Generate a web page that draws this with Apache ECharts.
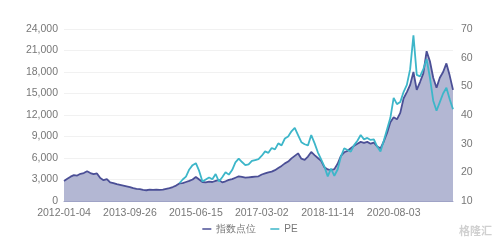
<!DOCTYPE html>
<html><head><meta charset="utf-8">
<script src="https://cdn.jsdelivr.net/npm/echarts@6/dist/echarts.min.js"></script>
<style>html,body{margin:0;padding:0;background:#fff}#c{width:500px;height:242px}</style>
</head><body><div id="c"></div>
<script>
const dates = [
'2012-01-04','2012-02-06','2012-03-07','2012-04-09','2012-05-10','2012-06-11','2012-07-12','2012-08-13','2012-09-13','2012-10-17',
'2012-11-15','2012-12-17','2013-01-18','2013-02-26','2013-03-28','2013-05-02','2013-06-03','2013-07-04','2013-08-05','2013-09-04',
'2013-09-26','2013-10-31','2013-12-02','2014-01-02','2014-02-10','2014-03-12','2014-04-14','2014-05-15','2014-06-16','2014-07-16',
'2014-08-15','2014-09-17','2014-10-23','2014-11-24','2014-12-24','2015-01-26','2015-03-02','2015-04-01','2015-04-30','2015-05-29',
'2015-06-15','2015-07-16','2015-08-17','2015-09-18','2015-10-26','2015-11-25','2015-12-25','2016-01-27','2016-03-04','2016-04-06',
'2016-05-09','2016-06-08','2016-07-11','2016-08-09','2016-09-08','2016-10-17','2016-11-15','2016-12-14','2017-01-13','2017-02-17',
'2017-03-02','2017-04-06','2017-05-09','2017-06-08','2017-07-10','2017-08-08','2017-09-07','2017-10-16','2017-11-14','2017-12-13',
'2018-01-12','2018-02-12','2018-03-20','2018-04-20','2018-05-22','2018-06-21','2018-07-23','2018-08-21','2018-09-20','2018-10-23',
'2018-11-14','2018-12-14','2019-01-15','2019-02-21','2019-03-22','2019-04-23','2019-05-27','2019-06-25','2019-07-25','2019-08-23',
'2019-09-24','2019-10-31','2019-11-29','2019-12-30','2020-02-06','2020-03-09','2020-04-08','2020-05-12','2020-06-10','2020-07-13',
'2020-08-03','2020-09-02','2020-10-12','2020-11-10','2020-12-09','2021-01-08','2021-02-05','2021-03-15','2021-04-14','2021-05-18',
'2021-06-17','2021-07-19','2021-08-17','2021-09-15','2021-10-22','2021-11-22','2021-12-21','2022-01-21','2022-02-28'
];
const indexValues = [
2800,3100,3400,3600,3550,3800,3900,4150,3900,3750,
3850,3200,2900,3050,2600,2500,2350,2250,2150,2050,
1950,1800,1700,1650,1550,1500,1600,1550,1600,1550,
1600,1700,1800,1950,2150,2450,2500,2650,2800,3000,
3350,3000,2650,2600,2700,2650,2800,2950,2600,2750,
2950,3050,3250,3450,3350,3250,3300,3350,3400,3450,
3700,3850,4000,4100,4300,4600,4900,5250,5500,5950,
6300,6650,5900,5750,6200,6850,6400,6000,5600,4700,
4400,4300,4450,5200,6300,6800,7000,7350,7700,8000,
8250,8100,8250,8000,8150,7600,7350,8300,9500,11000,
11700,11400,12300,14300,15200,16200,18000,15500,16600,17800,
20900,19500,17200,15800,17200,18000,19200,17500,15500
];
const peValues = [
null,null,null,null,null,null,null,null,null,null,
null,null,null,null,null,null,null,null,null,null,
null,null,null,null,null,null,null,null,null,null,
null,null,null,null,null,16.2,17.5,18.5,21.0,22.5,
23.2,20.5,16.8,17.5,18.2,17.6,19.4,16.8,18.3,20.0,
19.2,20.8,23.5,24.8,23.6,22.5,22.8,24.0,24.3,24.6,
25.8,27.3,26.8,28.5,28.0,30.1,29.4,31.8,32.5,34.3,
35.5,33.0,30.5,29.8,29.4,33.0,30.2,27.0,24.5,22.0,
18.6,21.3,18.8,21.0,25.5,28.4,27.8,27.2,29.5,31.0,
33.0,31.5,32.0,31.3,31.5,29.0,27.3,31.0,35.0,39.0,
46.0,43.8,44.5,48.0,50.5,56.0,67.8,54.0,53.5,56.0,
59.5,53.0,45.0,41.5,44.5,47.5,49.5,45.5,42.0
];
const seriesNames = ['指数点位','PE'];
const leftTicks = {min:0, max:24000, interval:3000};
const rightTicks = {min:10, max:70, interval:10};

const chart = echarts.init(document.getElementById('c'), null, {renderer:'canvas'});
const font = 'Liberation Sans, Arial, sans-serif';
chart.setOption({
  animation:false,
  backgroundColor:'#fff',
  grid:{left:64, right:47, top:29, bottom:41, containLabel:false},
  legend:{
    bottom:3, left:'center', itemWidth:9, itemHeight:1.5, itemGap:14,
    icon:'rect',
    textStyle:{color:'#777', fontSize:10, fontFamily:font},
    data:seriesNames
  },
  xAxis:{
    type:'category', data:dates, boundaryGap:false,
    axisLine:{show:true, lineStyle:{color:'#9fa3c6'}},
    axisTick:{show:false},
    axisLabel:{interval:19, color:'#777', fontSize:10.5, fontFamily:font, margin:7},
    splitLine:{show:false}
  },
  yAxis:[{
    type:'value', min:leftTicks.min, max:leftTicks.max, interval:leftTicks.interval,
    axisLine:{show:false}, axisTick:{show:false},
    axisLabel:{color:'#777', fontSize:10.5, fontFamily:font, margin:6,
      formatter:v=>v.toLocaleString('en-US')},
    splitLine:{lineStyle:{color:'#f1f1f1'}}
  },{
    type:'value', min:rightTicks.min, max:rightTicks.max, interval:rightTicks.interval,
    axisLine:{show:false}, axisTick:{show:false},
    axisLabel:{color:'#777', fontSize:10.5, fontFamily:font, margin:8},
    splitLine:{show:false}
  }],
  series:[{
    name:seriesNames[0], type:'line', data:indexValues, yAxisIndex:0,
    symbol:'none', smooth:false,
    lineStyle:{color:'#4b4f96', width:1.8},
    itemStyle:{color:'#4b4f96'},
    areaStyle:{color:'#b3b7d3', opacity:1},
    z:2
  },{
    name:seriesNames[1], type:'line', data:peValues, yAxisIndex:1,
    symbol:'none', smooth:false, connectNulls:false,
    lineStyle:{color:'#3db6c9', width:1.8},
    itemStyle:{color:'#3db6c9'},
    z:3
  }],
  graphic:[{
    type:'text', right:8, bottom:6,
    style:{text:'格隆汇', fill:'#d0d0d0', font:'bold 11px "Noto Sans CJK SC"'}
  }]
});
</script></body></html>
